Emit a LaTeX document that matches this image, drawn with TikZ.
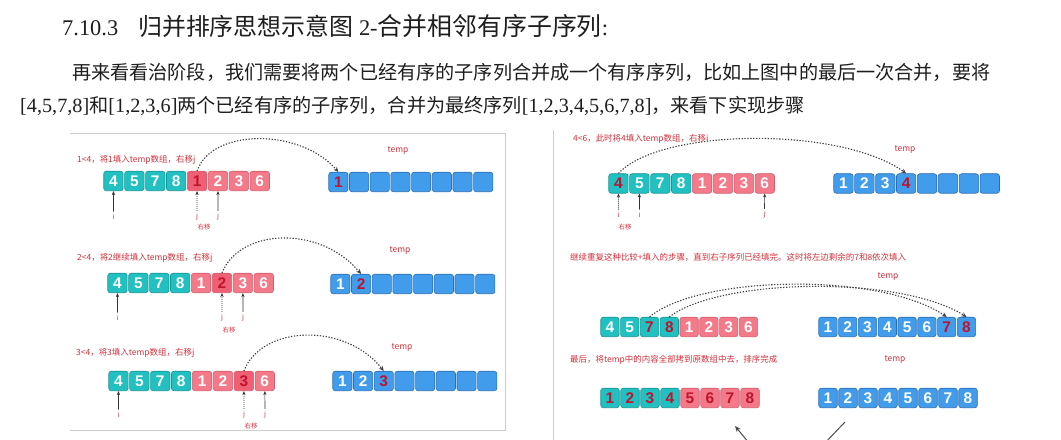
\documentclass[tikz,border=0pt]{standalone}
\usepackage{fontspec}
\setmainfont{Liberation Serif}
\newfontfamily\cjk{Noto Sans CJK SC}
\newfontfamily\numfont{Liberation Sans}
\usetikzlibrary{arrows.meta}
\definecolor{tealA}{RGB}{34,192,192}
\definecolor{tealB}{RGB}{22,150,150}
\definecolor{pinkA}{RGB}{244,122,138}
\definecolor{pinkB}{RGB}{212,92,108}
\definecolor{pinkH}{RGB}{240,96,116}
\definecolor{blueA}{RGB}{66,156,236}
\definecolor{blueB}{RGB}{42,110,180}
\definecolor{numred}{RGB}{190,20,45}
\definecolor{lblred}{RGB}{214,48,60}
\definecolor{txt}{RGB}{30,30,30}
\definecolor{framec}{RGB}{205,205,205}
\newcommand\zh[1]{{\cjk #1}}
\newcommand\cellrow[5]{%
  \foreach \lab/\st [count=\k] in {#5}
    {\node[\st, minimum width=#4bp-1.5bp] (#1\k) at ({#2+(\k-0.5)*#4},#3) {\lab};}}
\begin{document}
\begin{tikzpicture}[x=1bp,y=-1bp,
  cell/.style={rectangle,rounded corners=2.5bp,minimum height=19.5bp,inner sep=0pt,
    line width=0.6bp,text=white,font=\numfont\bfseries\fontsize{15.5}{15.5}\selectfont},
  tealc/.style={cell,fill=tealA,draw=tealB},
  tealr/.style={tealc,text=numred},
  pinkc/.style={cell,fill=pinkA,draw=pinkB},
  pinkr/.style={cell,fill=pinkH,draw=pinkB,text=numred},
  pinkd/.style={pinkc,text=numred},
  bluec/.style={cell,fill=blueA,draw=blueB},
  bluer/.style={bluec,text=numred},
  lbl/.style={inner sep=0pt,text=lblred,font=\cjk\fontsize{8.5}{8.5}\selectfont},
  idx/.style={inner sep=0.5bp,text=lblred,font=\cjk\fontsize{7}{7}\selectfont},
  mv/.style={inner sep=0pt,text=lblred,font=\cjk\fontsize{6.5}{6.5}\selectfont},
  ptr/.style={draw=black!80,line width=0.7bp,shorten <=2bp,-{Stealth[length=4bp,width=3.2bp]}},
  ptrd/.style={ptr,dash pattern=on 1bp off 1bp},
  arcarrow/.style={draw=black!75,line width=1.1bp,dash pattern=on 1.3bp off 1.6bp,
    -{Stealth[length=5bp,width=4.5bp]}},
  framel/.style={draw=framec,line width=0.8bp}
]
\useasboundingbox[fill=white] (0,0) rectangle (1061,440);

% ---------- header ----------
\node[anchor=base west,inner sep=0pt,text=txt,font=\fontsize{22.5}{22.5}\selectfont] (title) at (62,36)
  {7.10.3\hspace{20bp}{\cjk\fontsize{24}{24}\selectfont 归并排序思想示意图} 2-{\cjk\fontsize{25}{25}\selectfont 合并相邻有序子序列}:};
\node[anchor=base west,inner sep=0pt,text=txt,font=\fontsize{19.2}{19.2}\selectfont] (p1) at (72,80)
  {\zh{再来看看治阶段，我们需要将两个已经有序的子序列合并成一个有序序列，比如上图中的最后一次合并，要将}};
\node[anchor=base west,inner sep=0pt,text=txt,font=\fontsize{20.3}{20.3}\selectfont] (p2) at (20,113)
  {[4,5,7,8]{\cjk\fontsize{19.2}{19.2}\selectfont 和}[1,2,3,6]{\cjk\fontsize{19.2}{19.2}\selectfont 两个已经有序的子序列，合并为最终序列}[1,2,3,4,5,6,7,8]{\cjk\fontsize{19.2}{19.2}\selectfont ，来看下实现步骤}};

% ---------- frames ----------
\draw[framel] (70,133) -- (505,133) -- (505,430) -- (70,430);
\draw[framel] (553,130) -- (553,440);

% ---------- left panel, step 1 ----------
\node[lbl,anchor=west] (LAl) at (77,160) {1<4，将1填入temp数组，右移j};
\node[lbl] (LAtl) at (398,151) {temp};
\cellrow{LA}{103}{181}{20.9}{4/tealc,5/tealc,7/tealc,8/tealc,1/pinkr,2/pinkc,3/pinkc,6/pinkc}
\cellrow{LAt}{328}{182}{20.7}{1/bluer,/bluec,/bluec,/bluec,/bluec,/bluec,/bluec,/bluec}
\node[idx] (LAi) at (113.5,217) {i};
\node[idx] (LAj1) at (197,217) {j};
\node[idx] (LAj2) at (218,217) {j};
\node[mv] (LAm) at (204,227) {右移};
\draw[ptr] (LAi) -- (LA1);
\draw[ptrd] (LAj1) -- (LA5);
\draw[ptr] (LAj2) -- (LA6);
\draw[arcarrow] (LA5.north) .. controls (212,128) and (300,128) .. (LAt1.north);

% ---------- left panel, step 2 ----------
\node[lbl,anchor=west] (LBl) at (77,258) {2<4，将2继续填入temp数组，右移j};
\node[lbl] (LBtl) at (400,251) {temp};
\cellrow{LB}{107}{283}{20.9}{4/tealc,5/tealc,7/tealc,8/tealc,1/pinkc,2/pinkr,3/pinkc,6/pinkc}
\cellrow{LBt}{330}{284}{20.7}{1/bluec,2/bluer,/bluec,/bluec,/bluec,/bluec,/bluec,/bluec}
\node[idx] (LBi) at (117.5,318) {i};
\node[idx] (LBj1) at (222,318) {j};
\node[idx] (LBj2) at (243,318) {j};
\node[mv] (LBm) at (229,330) {右移};
\draw[ptr] (LBi) -- (LB1);
\draw[ptrd] (LBj1) -- (LB6);
\draw[ptr] (LBj2) -- (LB7);
\draw[arcarrow] (LB6.north) .. controls (240,228) and (320,225) .. (LBt2.north);

% ---------- left panel, step 3 ----------
\node[lbl,anchor=west] (LCl) at (76,353) {3<4，将3填入temp数组，右移j};
\node[lbl] (LCtl) at (402,348) {temp};
\cellrow{LC}{108}{381}{20.9}{4/tealc,5/tealc,7/tealc,8/tealc,1/pinkc,2/pinkc,3/pinkr,6/pinkc}
\cellrow{LCt}{332}{381}{20.7}{1/bluec,2/bluec,3/bluer,/bluec,/bluec,/bluec,/bluec,/bluec}
\node[idx] (LCi) at (118.5,415) {i};
\node[idx] (LCj1) at (244,415) {j};
\node[idx] (LCj2) at (265,415) {j};
\node[mv] (LCm) at (251,426) {右移};
\draw[ptr] (LCi) -- (LC1);
\draw[ptrd] (LCj1) -- (LC7);
\draw[ptr] (LCj2) -- (LC8);
\draw[arcarrow] (LC7.north) .. controls (262,325) and (345,322) .. (LCt3.north);

% ---------- right panel, step 4 ----------
\node[lbl,anchor=west] (RAl) at (573,139) {4<6，此时将4填入temp数组，右移i};
\node[lbl] (RAtl) at (905,150) {temp};
\cellrow{RA}{608}{183.5}{20.9}{4/tealr,5/tealc,7/tealc,8/tealc,1/pinkc,2/pinkc,3/pinkc,6/pinkc}
\cellrow{RAt}{833}{183.5}{20.9}{1/bluec,2/bluec,3/bluec,4/bluer,/bluec,/bluec,/bluec,/bluec}
\node[idx] (RAi1) at (618.5,215) {i};
\node[idx] (RAi2) at (639.5,215) {i};
\node[idx] (RAj) at (764.5,215) {j};
\node[mv] (RAm) at (625,227) {右移};
\draw[ptrd] (RAi1) -- (RA1);
\draw[ptr] (RAi2) -- (RA2);
\draw[ptr] (RAj) -- (RA8);
\draw[arcarrow] (RA1.north) .. controls (660,128) and (840,126) .. (RAt4.north);

% ---------- right panel, remaining ----------
\node[lbl,anchor=west] (RBl) at (570,257) {继续重复这种比较+填入的步骤，直到右子序列已经填完。这时将左边剩余的7和8依次填入};
\node[lbl] (RBtl) at (888,277) {temp};
\cellrow{RB}{600}{327}{19.8}{4/tealc,5/tealc,7/tealr,8/tealr,1/pinkc,2/pinkc,3/pinkc,6/pinkc}
\cellrow{RBt}{818}{327}{19.8}{1/bluec,2/bluec,3/bluec,4/bluec,5/bluec,6/bluec,7/bluer,8/bluer}
\draw[arcarrow] (RB3.north) .. controls (700,275) and (880,272) .. (RBt7.north);
\draw[arcarrow] (RB4.north) .. controls (720,278) and (900,275) .. (RBt8.north);

% ---------- right panel, final ----------
\node[lbl,anchor=west] (RCl) at (570,360) {最后，将temp中的内容全部拷到原数组中去，排序完成};
\node[lbl] (RCtl) at (895,360) {temp};
\cellrow{RC}{600}{398}{20}{1/tealr,2/tealr,3/tealr,4/tealr,5/pinkd,6/pinkd,7/pinkd,8/pinkd}
\cellrow{RCt}{818}{398}{20}{1/bluec,2/bluec,3/bluec,4/bluec,5/bluec,6/bluec,7/bluec,8/bluec}

\coordinate (ba1s) at (749,443);
\coordinate (ba1e) at (735,426);
\coordinate (ba2s) at (845,422);
\coordinate (ba2e) at (823,445);
\draw[draw=black!70,line width=1bp,-{Stealth[length=6bp,width=5bp]}] (ba1s) -- (ba1e);
\draw[draw=black!70,line width=1bp] (ba2s) -- (ba2e);
\end{tikzpicture}
\end{document}
